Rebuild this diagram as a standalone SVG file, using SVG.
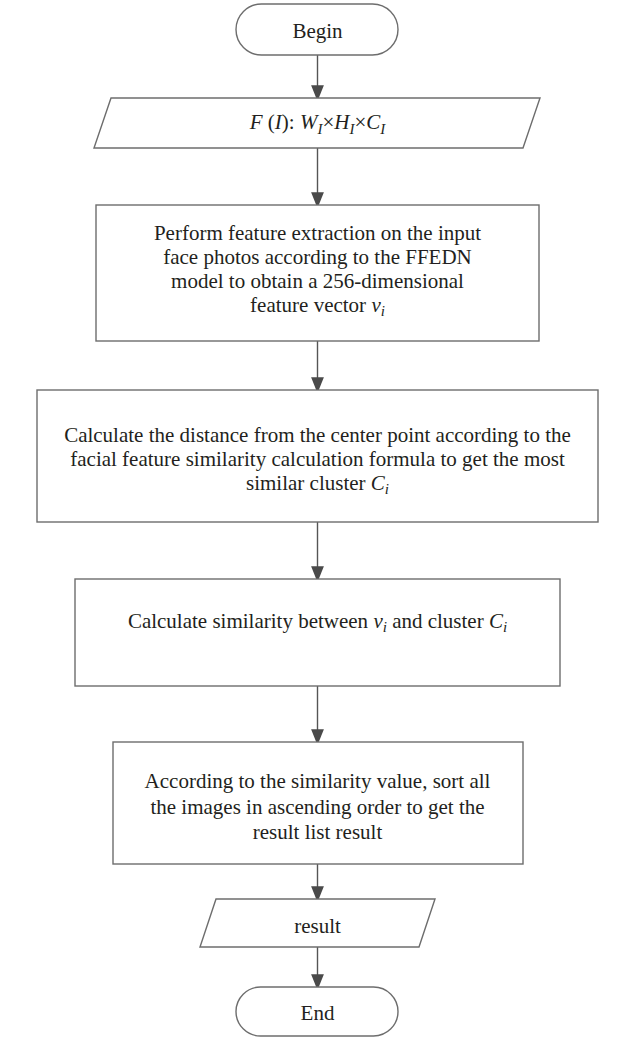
<svg xmlns="http://www.w3.org/2000/svg" width="620" height="1038" viewBox="0 0 620 1038">
  <style>
    .shape { fill: #ffffff; stroke: #6d6d6d; stroke-width: 1.4; }
    .label { font-family: "Liberation Serif", "DejaVu Serif", serif; font-size: 21px; fill: #231f20; text-anchor: middle; }
    .it { font-style: italic; }
    .sub { font-style: italic; font-size: 15px; }
    .link { stroke: #555555; stroke-width: 1.4; fill: none; marker-end: url(#arrow); }
  </style>
  <defs>
    <marker id="arrow" markerWidth="16" markerHeight="20" refX="16" refY="8" orient="auto" markerUnits="userSpaceOnUse" viewBox="0 0 20 16">
      <path d="M0,0 L20,8 L0,16 Z" fill="#4a4a4a"/>
    </marker>
  </defs>

  <rect width="620" height="1038" fill="#ffffff"/>

  <!-- connectors -->
  <g id="connectors">
    <line class="link" x1="317.5" y1="55" x2="317.5" y2="98"/>
    <line class="link" x1="317.5" y1="148" x2="317.5" y2="205"/>
    <line class="link" x1="317.5" y1="341" x2="317.5" y2="390"/>
    <line class="link" x1="317.5" y1="522" x2="317.5" y2="579"/>
    <line class="link" x1="317.5" y1="686" x2="317.5" y2="742"/>
    <line class="link" x1="317.5" y1="864" x2="317.5" y2="899"/>
    <line class="link" x1="317.5" y1="947" x2="317.5" y2="987"/>
  </g>

  <g id="begin">
    <rect class="shape" x="236" y="4" width="162" height="51" rx="25.5"/>
    <text class="label" x="317.5" y="38">Begin</text>
  </g>

  <g id="input">
    <polygon class="shape" points="111,98 540,98 523,148 94,148"/>
    <text class="label" x="317.5" y="129"><tspan class="it">F</tspan> (<tspan class="it">I</tspan>): <tspan class="it">W</tspan><tspan class="sub" dy="5">I</tspan><tspan dy="-5">×</tspan><tspan class="it">H</tspan><tspan class="sub" dy="5">I</tspan><tspan dy="-5">×</tspan><tspan class="it">C</tspan><tspan class="sub" dy="5">I</tspan></text>
  </g>

  <g id="extract">
    <rect class="shape" x="96" y="205" width="443" height="136"/>
    <text class="label" x="317.5" y="240">Perform feature extraction on the input</text>
    <text class="label" x="317.5" y="264">face photos according to the FFEDN</text>
    <text class="label" x="317.5" y="288">model to obtain a 256-dimensional</text>
    <text class="label" x="317.5" y="312">feature vector <tspan class="it">v</tspan><tspan class="sub" dy="4">i</tspan></text>
  </g>

  <g id="cluster">
    <rect class="shape" x="37" y="390" width="561" height="132"/>
    <text class="label" x="317.5" y="442">Calculate the distance from the center point according to the</text>
    <text class="label" x="317.5" y="466">facial feature similarity calculation formula to get the most</text>
    <text class="label" x="317.5" y="490">similar cluster <tspan class="it">C</tspan><tspan class="sub" dy="4">i</tspan></text>
  </g>

  <g id="similarity">
    <rect class="shape" x="75" y="579" width="485" height="107"/>
    <text class="label" x="317.5" y="628">Calculate similarity between <tspan class="it">v</tspan><tspan class="sub" dy="4">i</tspan><tspan dy="-4"> and cluster </tspan><tspan class="it">C</tspan><tspan class="sub" dy="4">i</tspan></text>
  </g>

  <g id="sort">
    <rect class="shape" x="113" y="742" width="410" height="122"/>
    <text class="label" x="317.5" y="788">According to the similarity value, sort all</text>
    <text class="label" x="317.5" y="814">the images in ascending order to get the</text>
    <text class="label" x="317.5" y="839">result list result</text>
  </g>

  <g id="output">
    <polygon class="shape" points="216,899 435,899 419,947 200,947"/>
    <text class="label" x="317.5" y="933">result</text>
  </g>

  <g id="end">
    <rect class="shape" x="236" y="987" width="162" height="49" rx="24.5"/>
    <text class="label" x="317.5" y="1020">End</text>
  </g>
</svg>
